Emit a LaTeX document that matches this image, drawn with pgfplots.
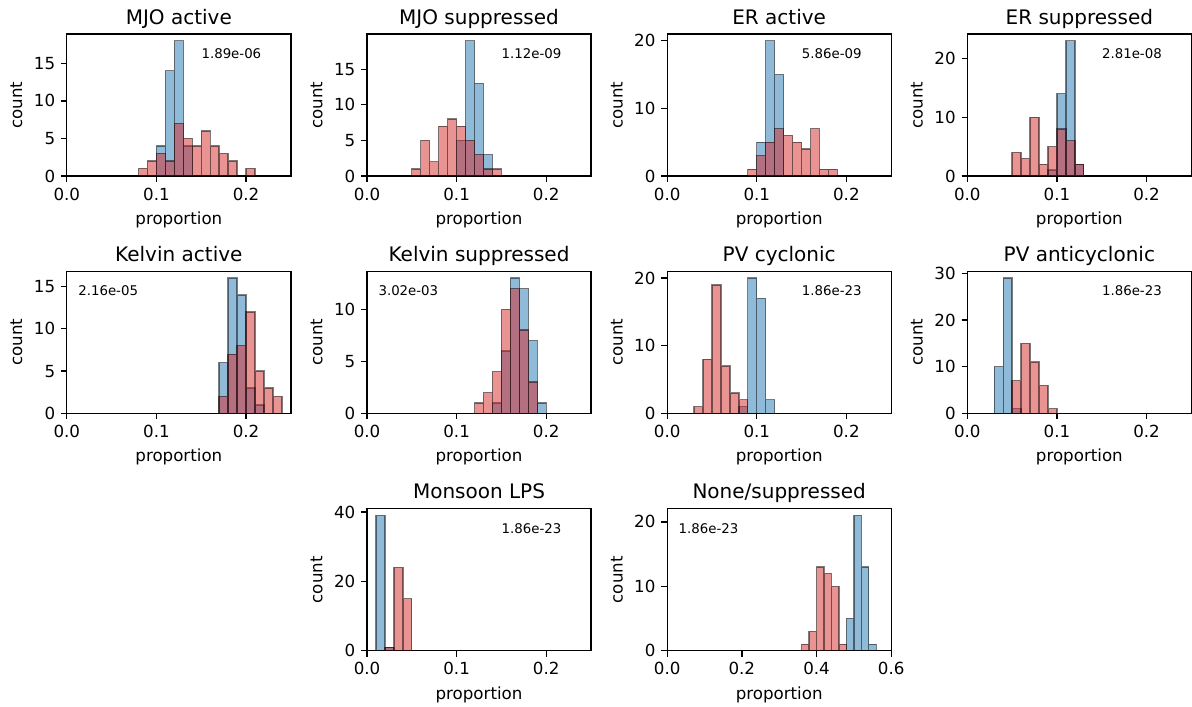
\documentclass[border=0pt]{standalone}
\usepackage{pgfplots}
\pgfplotsset{compat=1.18}
\usepackage{fontspec}
\setmainfont{DejaVu Sans}
\definecolor{tabblue}{RGB}{31,119,180}
\definecolor{tabred}{RGB}{214,39,40}
\pgfplotsset{
  hbase/.style={
    scale only axis, width=134.4pt, height=85.2pt,
    anchor=north west,
    xmin=0, xmax=0.25, ymin=0,
    axis line style={line width=0.8pt, black},
    tick style={line width=0.8pt, black},
    tick align=outside, major tick length=3.5pt,
    xtick pos=bottom, ytick pos=left,
    xtick={0,0.1,0.2}, xticklabels={0.0,0.1,0.2},
    ticklabel style={font=\fontsize{10}{12}\selectfont},
    /pgf/number format/assume math mode=true,
    xlabel={proportion}, ylabel={count},
    label style={font=\fontsize{10}{12}\selectfont},
    title style={font=\fontsize{12}{14.4}\selectfont, at={(0.5,1)}, anchor=base},
  },
  bl/.style={ybar interval, fill=tabblue, fill opacity=0.5, draw=black, draw opacity=0.5, line width=0.8pt},
  rd/.style={ybar interval, fill=tabred, fill opacity=0.5, draw=black, draw opacity=0.5, line width=0.8pt},
}
\tikzset{ptext/.style={anchor=north west, inner sep=0pt, font=\fontsize{8}{9.6}\selectfont}}
\begin{document}
\begin{tikzpicture}
\path[use as bounding box] (0,0) rectangle (715.2pt,-423.6pt);
% ---------- Row 1 ----------
\begin{axis}[hbase, at={(40.1pt,-20.4pt)}, title={MJO active}, ymax=18.9, ytick={0,5,10,15}]
\addplot[bl] coordinates {(0,0)(0.10,4)(0.11,14)(0.12,18)(0.13,4)(0.14,0)(0.24,0)};
\addplot[rd] coordinates {(0,0)(0.08,1)(0.09,2)(0.10,3)(0.11,2)(0.12,7)(0.13,5)(0.14,4)(0.15,6)(0.16,4)(0.17,3)(0.18,2)(0.19,0)(0.20,1)(0.21,0)(0.24,0)};
\node[ptext] at (rel axis cs:0.6,0.9) {1.89e-06};
\end{axis}
\begin{axis}[hbase, at={(220.2pt,-20.4pt)}, title={MJO suppressed}, ymax=19.95, ytick={0,5,10,15}]
\addplot[bl] coordinates {(0,0)(0.10,5)(0.11,19)(0.12,13)(0.13,3)(0.14,0)(0.24,0)};
\addplot[rd] coordinates {(0,0)(0.05,1)(0.06,5)(0.07,2)(0.08,7)(0.09,8)(0.10,7)(0.11,5)(0.12,3)(0.13,1)(0.14,1)(0.15,0)(0.24,0)};
\node[ptext] at (rel axis cs:0.6,0.9) {1.12e-09};
\end{axis}
\begin{axis}[hbase, at={(400.3pt,-20.4pt)}, title={ER active}, ymax=21, ytick={0,10,20}]
\addplot[bl] coordinates {(0,0)(0.10,5)(0.11,20)(0.12,15)(0.13,0)(0.24,0)};
\addplot[rd] coordinates {(0,0)(0.09,1)(0.10,3)(0.11,5)(0.12,7)(0.13,6)(0.14,5)(0.15,4)(0.16,7)(0.17,1)(0.18,1)(0.19,0)(0.24,0)};
\node[ptext] at (rel axis cs:0.6,0.9) {5.86e-09};
\end{axis}
\begin{axis}[hbase, at={(580.4pt,-20.4pt)}, title={ER suppressed}, ymax=24.15, ytick={0,10,20}]
\addplot[bl] coordinates {(0,0)(0.09,1)(0.10,14)(0.11,23)(0.12,2)(0.13,0)(0.24,0)};
\addplot[rd] coordinates {(0,0)(0.05,4)(0.06,3)(0.07,10)(0.08,2)(0.09,5)(0.10,8)(0.11,6)(0.12,2)(0.13,0)(0.24,0)};
\node[ptext] at (rel axis cs:0.6,0.9) {2.81e-08};
\end{axis}
% ---------- Row 2 ----------
\begin{axis}[hbase, at={(40.1pt,-162.8pt)}, title={Kelvin active}, ymax=16.8, ytick={0,5,10,15}]
\addplot[bl] coordinates {(0,0)(0.17,6)(0.18,16)(0.19,14)(0.20,3)(0.21,1)(0.22,0)(0.24,0)};
\addplot[rd] coordinates {(0,0)(0.17,2)(0.18,7)(0.19,8)(0.20,12)(0.21,5)(0.22,3)(0.23,2)(0.24,0)};
\node[ptext] at (rel axis cs:0.05,0.9) {2.16e-05};
\end{axis}
\begin{axis}[hbase, at={(220.2pt,-162.8pt)}, title={Kelvin suppressed}, ymax=13.65, ytick={0,5,10}]
\addplot[bl] coordinates {(0,0)(0.14,1)(0.15,6)(0.16,13)(0.17,12)(0.18,7)(0.19,1)(0.20,0)(0.24,0)};
\addplot[rd] coordinates {(0,0)(0.12,1)(0.13,2)(0.14,4)(0.15,10)(0.16,12)(0.17,8)(0.18,3)(0.19,0)(0.24,0)};
\node[ptext] at (rel axis cs:0.05,0.9) {3.02e-03};
\end{axis}
\begin{axis}[hbase, at={(400.3pt,-162.8pt)}, title={PV cyclonic}, ymax=21, ytick={0,10,20}]
\addplot[bl] coordinates {(0,0)(0.08,1)(0.09,20)(0.10,17)(0.11,2)(0.12,0)(0.24,0)};
\addplot[rd] coordinates {(0,0)(0.03,1)(0.04,8)(0.05,19)(0.06,7)(0.07,3)(0.08,2)(0.09,0)(0.24,0)};
\node[ptext] at (rel axis cs:0.6,0.9) {1.86e-23};
\end{axis}
\begin{axis}[hbase, at={(580.4pt,-162.8pt)}, title={PV anticyclonic}, ymax=30.45, ytick={0,10,20,30}]
\addplot[bl] coordinates {(0,0)(0.03,10)(0.04,29)(0.05,1)(0.06,0)(0.24,0)};
\addplot[rd] coordinates {(0,0)(0.05,7)(0.06,15)(0.07,11)(0.08,6)(0.09,1)(0.10,0)(0.24,0)};
\node[ptext] at (rel axis cs:0.6,0.9) {1.86e-23};
\end{axis}
% ---------- Row 3 ----------
\begin{axis}[hbase, at={(220.2pt,-305.2pt)}, title={Monsoon LPS}, ymax=40.95, ytick={0,20,40}]
\addplot[bl] coordinates {(0,0)(0.01,39)(0.02,1)(0.03,0)(0.24,0)};
\addplot[rd] coordinates {(0,0)(0.02,1)(0.03,24)(0.04,15)(0.05,0)(0.24,0)};
\node[ptext] at (rel axis cs:0.6,0.9) {1.86e-23};
\end{axis}
\begin{axis}[hbase, at={(400.3pt,-305.2pt)}, title={None/suppressed}, xmax=0.6, xtick={0,0.2,0.4,0.6}, xticklabels={0.0,0.2,0.4,0.6}, ymax=22.05, ytick={0,10,20}]
\addplot[bl] coordinates {(0,0)(0.48,5)(0.50,21)(0.52,13)(0.54,1)(0.56,0)(0.58,0)};
\addplot[rd] coordinates {(0,0)(0.36,1)(0.38,3)(0.40,13)(0.42,12)(0.44,10)(0.46,1)(0.48,0)(0.58,0)};
\node[ptext] at (rel axis cs:0.05,0.9) {1.86e-23};
\end{axis}
\end{tikzpicture}
\end{document}
